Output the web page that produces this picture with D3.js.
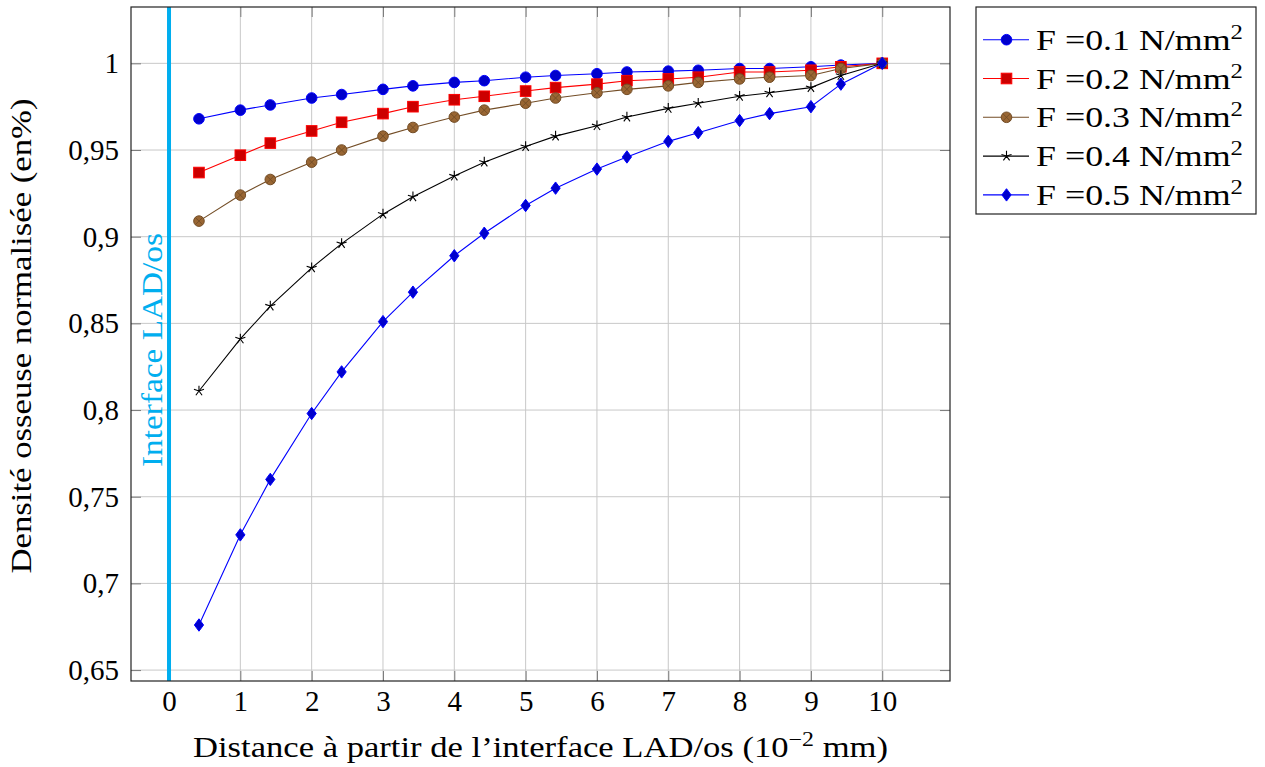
<!DOCTYPE html>
<html>
<head>
<meta charset="utf-8">
<script src="https://cdn.jsdelivr.net/npm/d3@7"></script>
<style>
  html, body { margin: 0; padding: 0; background: #fff; }
  svg { display: block; }
  text { font-family: "Liberation Serif", "Times New Roman", serif; }
</style>
</head>
<body>
<svg id="chart" width="1265" height="767"></svg>
<script>
// ---- data ----
const xValues = [0.42, 1, 1.42, 2, 2.42, 3, 3.42, 4, 4.42, 5, 5.42, 6, 6.42, 7, 7.42, 8, 8.42, 9, 9.42, 10];
const f01 = [0.968, 0.973, 0.976, 0.980, 0.982, 0.985, 0.987, 0.989, 0.990, 0.992, 0.993, 0.994, 0.995, 0.9955, 0.996, 0.997, 0.997, 0.998, 0.999, 1.0];
const f02 = [0.937, 0.947, 0.954, 0.961, 0.966, 0.971, 0.975, 0.979, 0.981, 0.984, 0.986, 0.988, 0.990, 0.991, 0.992, 0.995, 0.995, 0.996, 0.998, 1.0];
const f03 = [0.909, 0.924, 0.933, 0.943, 0.950, 0.958, 0.963, 0.969, 0.973, 0.977, 0.980, 0.983, 0.985, 0.987, 0.989, 0.991, 0.992, 0.993, 0.997, 1.0];
const f04 = [0.811, 0.841, 0.860, 0.882, 0.896, 0.913, 0.923, 0.935, 0.943, 0.952, 0.958, 0.964, 0.969, 0.974, 0.977, 0.981, 0.983, 0.986, 0.993, 1.0];
const f05 = [0.676, 0.728, 0.760, 0.798, 0.822, 0.851, 0.868, 0.889, 0.902, 0.918, 0.928, 0.939, 0.946, 0.955, 0.960, 0.967, 0.971, 0.975, 0.988, 1.0];
const seriesForces = ["0.1", "0.2", "0.3", "0.4", "0.5"];
const xTicks = [0, 1, 2, 3, 4, 5, 6, 7, 8, 9, 10];
const yTicks = [0.65, 0.7, 0.75, 0.8, 0.85, 0.9, 0.95, 1];
const yTickLabels = ["0,65", "0,7", "0,75", "0,8", "0,85", "0,9", "0,95", "1"];
const interfaceX = 0;

// ---- styles ----
const seriesStyle = [
  { values: f01, line: "#0000ff", fill: "#0000cc", stroke: "#0000ff", mark: "circle" },
  { values: f02, line: "#ff0000", fill: "#cc0000", stroke: "#ff0000", mark: "square" },
  { values: f03, line: "#734d26", fill: "#996633", stroke: "#734d26", mark: "otimes" },
  { values: f04, line: "#000000", fill: "none", stroke: "#000000", mark: "star" },
  { values: f05, line: "#0000ff", fill: "#0000cc", stroke: "#0000ff", mark: "diamond" }
];

const W = 1265, H = 767;
const plot = { left: 131, right: 950, top: 7, bottom: 681 };
const FS = 29;

const svg = d3.select("#chart");
const x = d3.scaleLinear().domain([-0.533, 10.95]).range([plot.left, plot.right]);
const y = d3.scaleLinear().domain([0.6437, 1.0325]).range([plot.bottom, plot.top]);

// grid
const grid = svg.append("g");
grid.selectAll("line.gx").data(xTicks).enter().append("line")
  .attr("x1", d => x(d)).attr("x2", d => x(d))
  .attr("y1", plot.top).attr("y2", plot.bottom)
  .attr("stroke", "#c8c8c8").attr("stroke-width", 1);
grid.selectAll("line.gy").data(yTicks).enter().append("line")
  .attr("y1", d => y(d)).attr("y2", d => y(d))
  .attr("x1", plot.left).attr("x2", plot.right)
  .attr("stroke", "#c8c8c8").attr("stroke-width", 1);

// ticks (inside, all four sides) via d3 axes
const tickLen = 10;
const tickColor = "#7a7a7a";
function styleTicks(g) {
  g.select(".domain").remove();
  g.selectAll(".tick line").attr("stroke", tickColor).attr("stroke-width", 1);
  g.selectAll(".tick text").remove();
}
svg.append("g").attr("transform", `translate(0,${plot.bottom})`)
  .call(d3.axisTop(x).tickValues(xTicks).tickSize(tickLen)).call(styleTicks);
svg.append("g").attr("transform", `translate(0,${plot.top})`)
  .call(d3.axisBottom(x).tickValues(xTicks).tickSize(tickLen)).call(styleTicks);
svg.append("g").attr("transform", `translate(${plot.left},0)`)
  .call(d3.axisRight(y).tickValues(yTicks).tickSize(tickLen)).call(styleTicks);
svg.append("g").attr("transform", `translate(${plot.right},0)`)
  .call(d3.axisLeft(y).tickValues(yTicks).tickSize(tickLen)).call(styleTicks);

// tick labels via axes
const xAxisG = svg.append("g").attr("transform", `translate(0,${plot.bottom})`)
  .call(d3.axisBottom(x).tickValues(xTicks).tickSize(0).tickPadding(30).tickFormat(d3.format("d")));
xAxisG.select(".domain").remove();
xAxisG.selectAll("text").attr("font-size", FS).attr("fill", "#000")
  .attr("font-family", "Liberation Serif").attr("dy", 0);

const yAxisG = svg.append("g").attr("transform", `translate(${plot.left},0)`)
  .call(d3.axisLeft(y).tickValues(yTicks).tickSize(0).tickPadding(12).tickFormat((d, i) => yTickLabels[i]));
yAxisG.select(".domain").remove();
yAxisG.selectAll("text").attr("font-size", FS).attr("fill", "#000")
  .attr("font-family", "Liberation Serif").attr("dy", "0.33em");

// interface line
svg.append("line")
  .attr("x1", x(interfaceX)).attr("x2", x(interfaceX))
  .attr("y1", plot.top).attr("y2", plot.bottom)
  .attr("stroke", "#00aeef").attr("stroke-width", 4);
svg.append("text")
  .attr("transform", `translate(${x(interfaceX) - 7},${350}) rotate(-90)`)
  .attr("text-anchor", "middle")
  .attr("font-size", FS).attr("fill", "#00aeef")
  .attr("textLength", 234).attr("lengthAdjust", "spacingAndGlyphs")
  .text("Interface LAD/os");

// markers
const ms = 5.3;
function drawMark(g, type, s) {
  if (type === "circle") {
    g.append("circle").attr("r", ms).attr("fill", s.fill).attr("stroke", s.stroke).attr("stroke-width", 1);
  } else if (type === "square") {
    g.append("rect").attr("x", -ms).attr("y", -ms).attr("width", 2 * ms).attr("height", 2 * ms)
      .attr("fill", s.fill).attr("stroke", s.stroke).attr("stroke-width", 1);
  } else if (type === "otimes") {
    g.append("circle").attr("r", ms).attr("fill", s.fill).attr("stroke", s.stroke).attr("stroke-width", 1);
    const k = ms * 0.7071;
    g.append("path").attr("d", `M${-k},${-k}L${k},${k}M${-k},${k}L${k},${-k}`)
      .attr("stroke", s.stroke).attr("stroke-width", 0.9);
  } else if (type === "star") {
    let d = "";
    for (let i = 0; i < 5; i++) {
      const a = -Math.PI / 2 + i * 2 * Math.PI / 5;
      d += `M0,0L${(ms * Math.cos(a)).toFixed(2)},${(ms * Math.sin(a)).toFixed(2)}`;
    }
    g.append("path").attr("d", d).attr("stroke", s.stroke).attr("stroke-width", 1.1).attr("fill", "none");
  } else if (type === "diamond") {
    const h = 6.2, w = 4.6;
    g.append("path").attr("d", `M0,${-h}L${w},0L0,${h}L${-w},0Z`)
      .attr("fill", s.fill).attr("stroke", s.stroke).attr("stroke-width", 1);
  }
}

const lineGen = d3.line().x(d => x(d[0])).y(d => y(d[1]));
seriesStyle.forEach(s => {
  const pts = xValues.map((xv, i) => [xv, s.values[i]]);
  svg.append("path").datum(pts).attr("d", lineGen)
    .attr("fill", "none").attr("stroke", s.line).attr("stroke-width", 1.1);
  const g = svg.append("g");
  g.selectAll("g.m").data(pts).enter().append("g")
    .attr("transform", d => `translate(${x(d[0])},${y(d[1])})`)
    .each(function () { drawMark(d3.select(this), s.mark, s); });
});

// frame
svg.append("rect")
  .attr("x", plot.left).attr("y", plot.top)
  .attr("width", plot.right - plot.left).attr("height", plot.bottom - plot.top)
  .attr("fill", "none").attr("stroke", "#222").attr("stroke-width", 1.2);

// axis titles
const xt = svg.append("text")
  .attr("x", (plot.left + plot.right) / 2).attr("y", 757)
  .attr("text-anchor", "middle").attr("font-size", FS).attr("fill", "#000")
  .attr("textLength", 695).attr("lengthAdjust", "spacingAndGlyphs");
xt.append("tspan").text("Distance à partir de l’interface LAD/os (10");
xt.append("tspan").attr("dy", -11).attr("font-size", 20).text("−2");
xt.append("tspan").attr("dy", 11).text(" mm)");

svg.append("text")
  .attr("transform", `translate(31,${336}) rotate(-90)`)
  .attr("text-anchor", "middle").attr("font-size", FS).attr("fill", "#000")
  .attr("textLength", 475).attr("lengthAdjust", "spacingAndGlyphs")
  .text("Densité osseuse normalisée (en%)");

// legend
const lg = { x: 976, y: 7, w: 280, h: 207, row0: 32.7, rowStep: 38.8 };
svg.append("rect").attr("x", lg.x).attr("y", lg.y).attr("width", lg.w).attr("height", lg.h)
  .attr("fill", "#fff").attr("stroke", "#222").attr("stroke-width", 1.2);
seriesStyle.forEach((s, i) => {
  const cy = lg.y + lg.row0 + i * lg.rowStep;
  svg.append("line").attr("x1", 983).attr("x2", 1029).attr("y1", cy).attr("y2", cy)
    .attr("stroke", s.line).attr("stroke-width", 1.1);
  const g = svg.append("g").attr("transform", `translate(1006.5,${cy})`);
  drawMark(g, s.mark, s);
  const t = svg.append("text").attr("x", 1036).attr("y", cy + 10)
    .attr("font-size", FS).attr("fill", "#000")
    .attr("textLength", 207).attr("lengthAdjust", "spacingAndGlyphs");
  t.append("tspan").text(`F =${seriesForces[i]} N/mm`);
  t.append("tspan").attr("dy", -11).attr("font-size", 20).text("2");
});
</script>
</body>
</html>
